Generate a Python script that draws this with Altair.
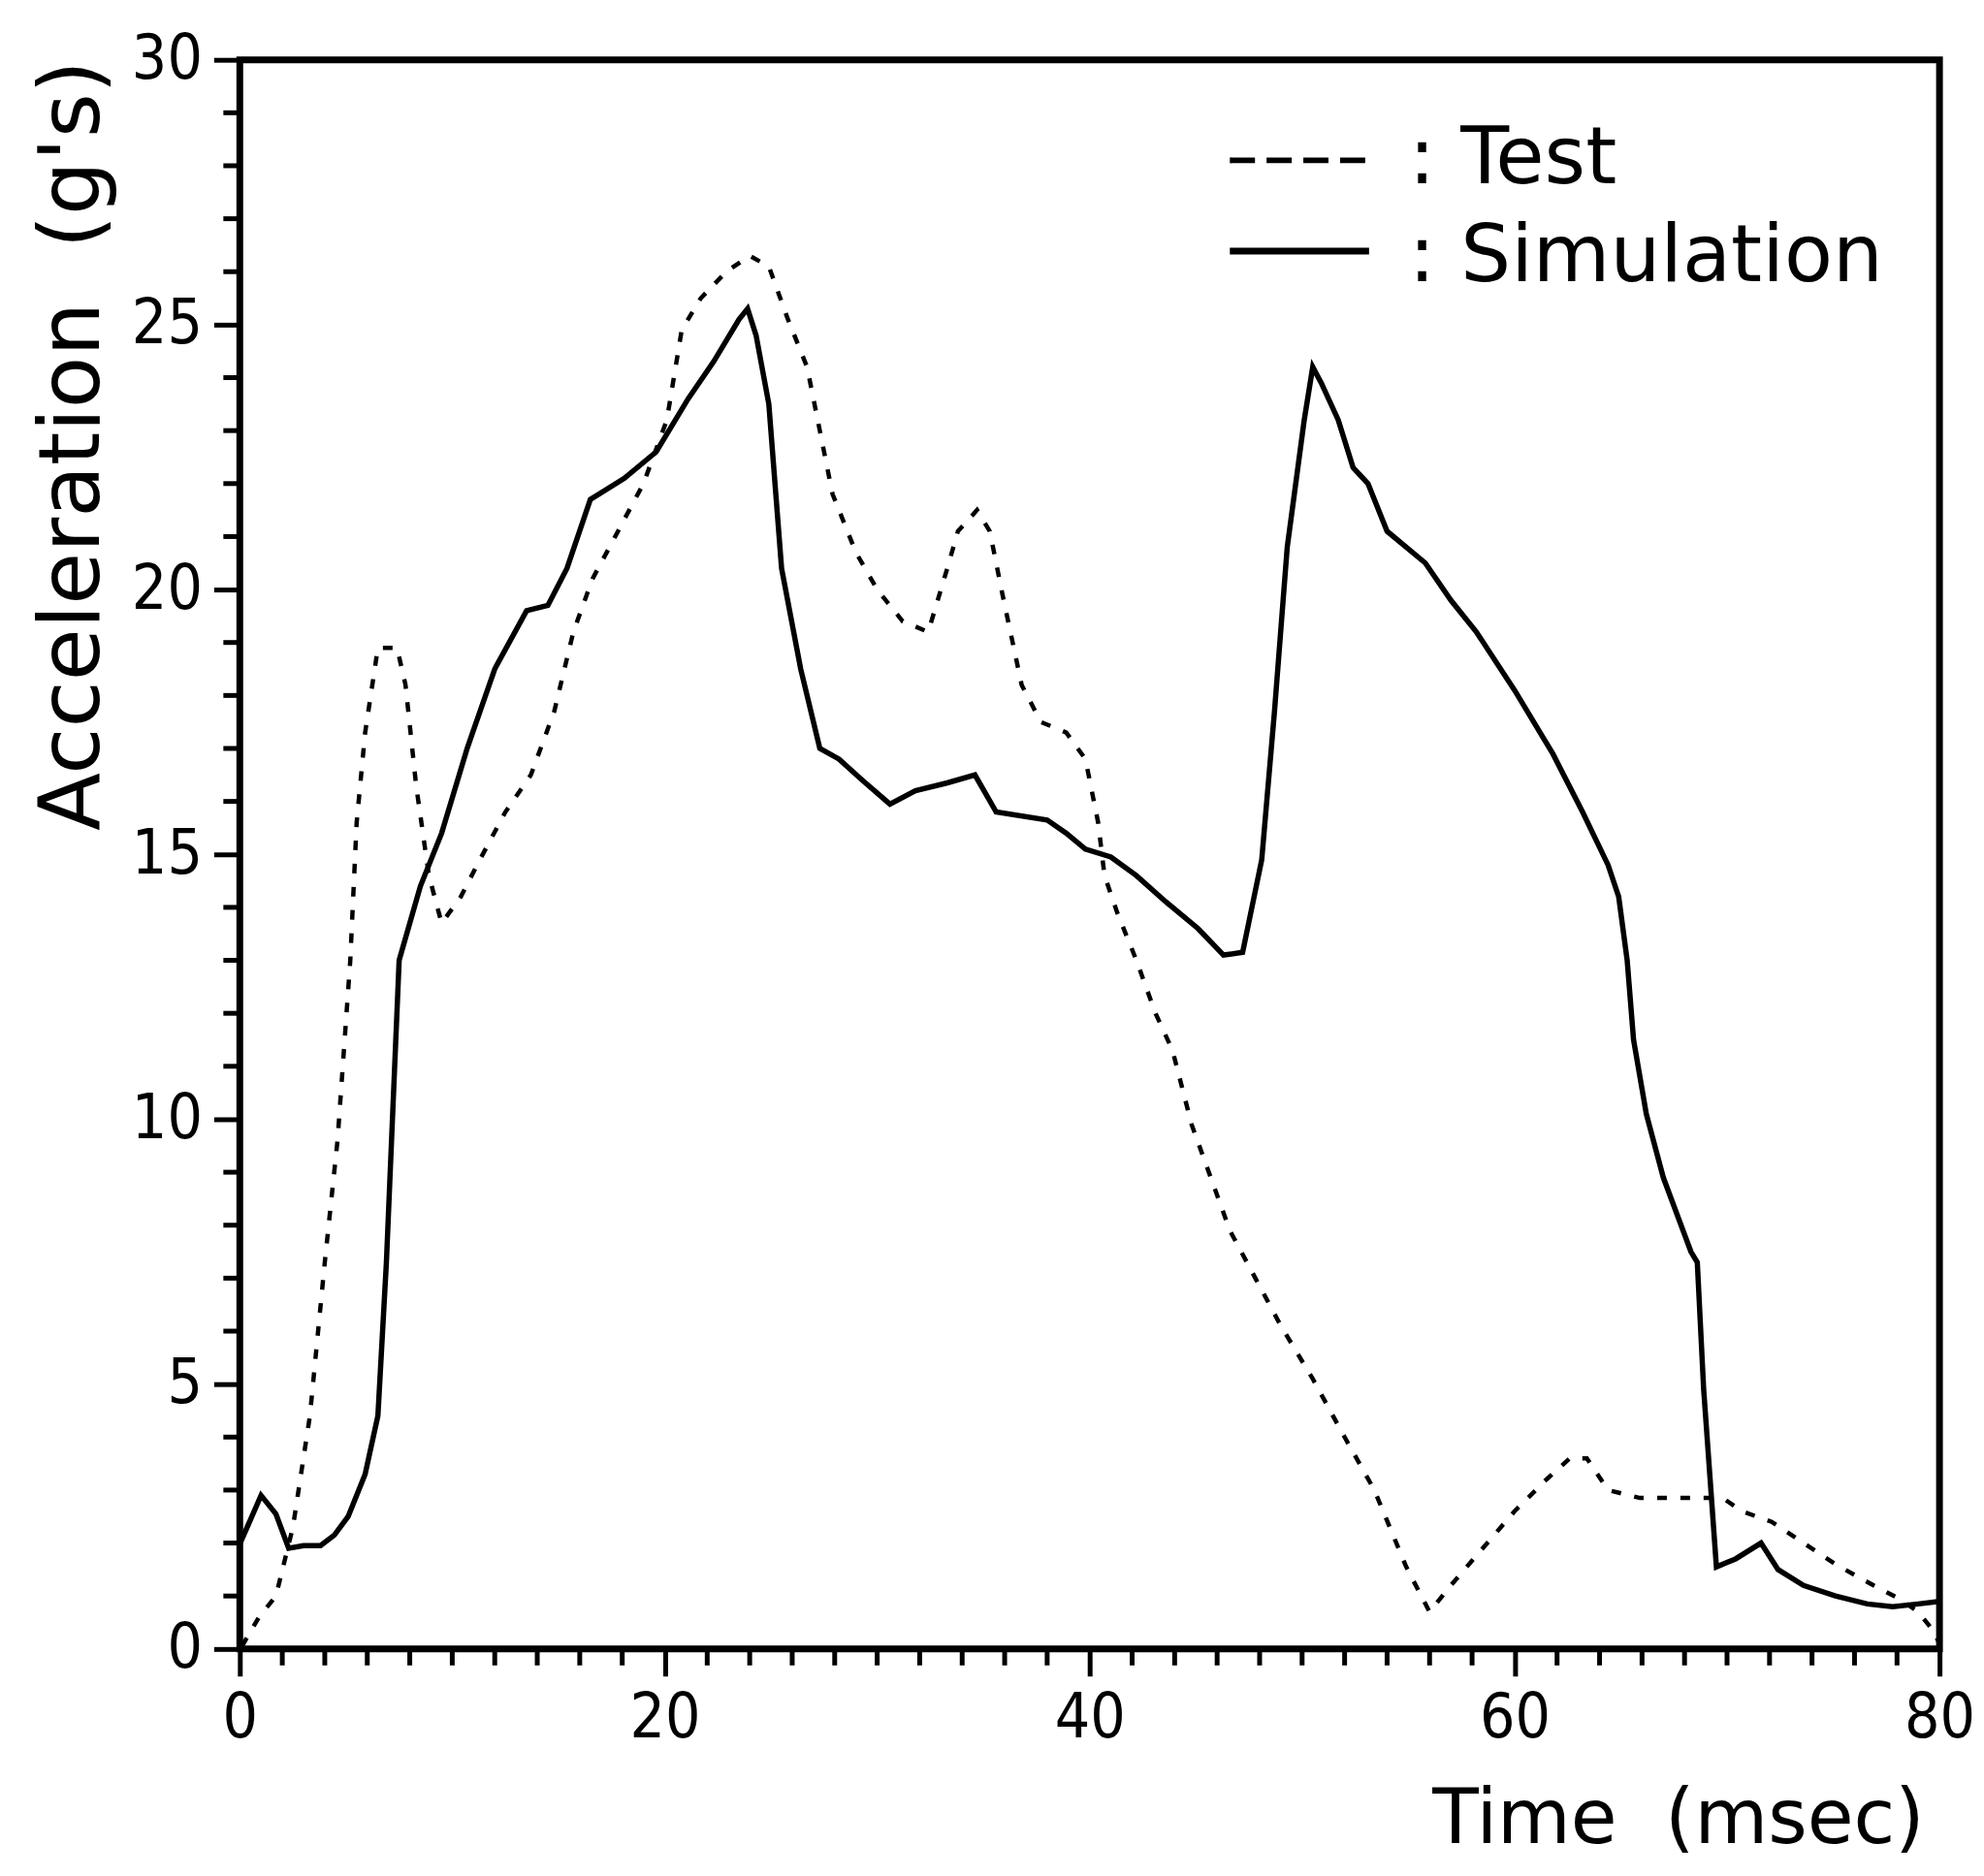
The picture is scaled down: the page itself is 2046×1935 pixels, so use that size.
import altair as alt
import pandas as pd

# ---- data ----
sim_t = [0, 1.0, 1.7, 2.3, 3.0, 3.8, 4.45, 5.1, 5.9, 6.5, 6.9, 7.5, 8.5, 9.5, 10.7, 12.0,
         13.5, 14.5, 15.4, 16.5, 18.1, 19.6, 21.1, 22.3, 23.5, 23.9, 24.3, 24.9, 25.5, 26.4,
         27.3, 28.2, 29.3, 30.6, 31.8, 33.3, 34.6, 35.6, 38.0, 38.9, 39.8, 41.0, 42.2, 43.6,
         45.1, 46.3, 47.2, 48.1, 48.7, 49.3, 50.1, 50.5, 50.9, 51.7, 52.4, 53.1, 54.0, 55.8,
         57.0, 58.2, 60.0, 61.8, 63.2, 64.4, 64.9, 65.3, 65.6, 66.2, 67.0, 68.3, 68.6, 68.9,
         69.5, 70.4, 71.6, 72.4, 73.6, 75.1, 76.6, 77.8, 79.0, 80.0]
sim_a = [1.98, 2.9, 2.55, 1.9, 1.95, 1.95, 2.15, 2.5, 3.3, 4.4, 7.3, 13.0, 14.4, 15.4, 17.0, 18.5,
         19.6, 19.7, 20.4, 21.7, 22.1, 22.6, 23.6, 24.3, 25.1, 25.3, 24.8, 23.5, 20.4, 18.5,
         17.0, 16.8, 16.4, 15.95, 16.2, 16.35, 16.5, 15.8, 15.65, 15.4, 15.1, 14.95, 14.6, 14.1,
         13.6, 13.1, 13.15, 14.9, 17.7, 20.8, 23.2, 24.2, 23.9, 23.2, 22.3, 22.0, 21.1, 20.5,
         19.8, 19.2, 18.1, 16.9, 15.8, 14.8, 14.2, 13.0, 11.5, 10.1, 8.9, 7.5, 7.3, 4.9,
         1.55, 1.7, 2.0, 1.5, 1.2, 1.0, 0.85, 0.8, 0.85, 0.9]

test_t = [0.1, 0.9, 1.7, 2.5, 3.3, 4.0, 4.6, 5.2, 5.5, 5.9, 6.5, 7.4, 7.8, 8.3, 8.9, 9.5,
          10.4, 11.3, 12.5, 13.7, 14.8, 15.7, 16.6, 17.8, 19.0, 20.1, 20.8, 21.7, 22.9, 24.0,
          24.9, 25.8, 26.7, 27.3, 27.9, 29.0, 30.0, 31.2, 32.4, 33.3, 33.8, 34.7, 35.3, 35.9,
          36.8, 37.7, 38.9, 39.8, 40.4, 40.7, 41.3, 42.2, 43.1, 43.9, 44.8, 45.7, 46.6, 47.8,
          49.0, 50.5, 52.0, 53.4, 54.9, 56.0, 57.0, 58.5, 60.0, 61.5, 62.6, 63.4, 64.4, 65.9,
          68.3, 69.8, 70.7, 72.1, 73.6, 75.1, 76.9, 78.1, 79.0, 79.7, 80.0]
test_a = [0.05, 0.6, 1.0, 2.3, 4.4, 7.3, 9.6, 13.0, 15.6, 17.3, 18.9, 18.9, 18.2, 16.3, 14.6, 13.7,
          14.2, 14.9, 15.8, 16.5, 17.7, 19.2, 20.2, 21.1, 22.0, 23.2, 24.9, 25.5, 26.0, 26.3,
          26.1, 25.1, 24.2, 23.0, 21.8, 20.7, 20.0, 19.4, 19.2, 20.4, 21.1, 21.5, 21.1, 19.9,
          18.2, 17.5, 17.3, 16.8, 15.6, 14.6, 13.9, 13.0, 12.0, 11.3, 9.9, 8.9, 7.9, 7.0,
          6.1, 5.1, 4.0, 3.0, 1.55, 0.7, 1.2, 1.9, 2.6, 3.2, 3.6, 3.6, 3.0, 2.85,
          2.85, 2.85, 2.6, 2.4, 2.0, 1.6, 1.2, 0.95, 0.7, 0.35, 0.1]

x_major = [0, 20, 40, 60, 80]
x_minor = [2, 4, 6, 8, 10, 12, 14, 16, 18, 22, 24, 26, 28, 30, 32, 34, 36, 38,
           42, 44, 46, 48, 50, 52, 54, 56, 58, 62, 64, 66, 68, 70, 72, 74, 76, 78]
y_major = [0, 5, 10, 15, 20, 25, 30]
y_minor = [1, 2, 3, 4, 6, 7, 8, 9, 11, 12, 13, 14, 16, 17, 18, 19, 21, 22, 23, 24,
           26, 27, 28, 29]

legend_labels = [": Test", ": Simulation"]
x_title = "Time\u00a0\u00a0(msec)"
y_title = "Acceleration\u00a0\u00a0(g's)"

W, H = 1758, 1644
TICK_FONT = "Liberation Sans Narrow, DejaVu Sans Condensed, DejaVu Sans"
TEXT_FONT = "DejaVu Sans"

sim_df = pd.DataFrame({"t": sim_t, "a": sim_a})
test_df = pd.DataFrame({"t": test_t, "a": test_a})

xscale = alt.Scale(domain=[0, 80], nice=False, zero=False)
yscale = alt.Scale(domain=[0, 30], nice=False)

xaxis = alt.Axis(values=x_major, format="d", tickSize=28, tickWidth=5, tickColor="black",
                 domain=False, grid=False, labelFont=TICK_FONT, labelFontSize=64,
                 labelColor="black", labelPadding=12, labelFlush=False,
                 title=x_title, titleFont=TEXT_FONT, titleFontSize=78,
                 titleFontWeight="normal", titleColor="black", titleAlign="right",
                 titleBaseline="alphabetic", titleX=1742, titleY=200, titleAngle=0)
yaxis = alt.Axis(values=y_major, format="d", tickSize=27, tickWidth=5, tickColor="black",
                 domain=False, grid=False, labelFont=TICK_FONT, labelFontSize=64,
                 labelColor="black", labelPadding=12, labelFlush=False,
                 title=y_title, titleFont=TEXT_FONT, titleFontSize=88,
                 titleFontWeight="normal", titleColor="black", titleAngle=270,
                 titleAlign="right", titleBaseline="middle", titleX=-172, titleY=0)

test_line = alt.Chart(test_df).mark_line(color="black", strokeWidth=4.5,
                                         strokeDash=[10, 14]).encode(
    x=alt.X("t:Q", scale=xscale, axis=xaxis),
    y=alt.Y("a:Q", scale=yscale, axis=yaxis),
)
sim_line = alt.Chart(sim_df).mark_line(color="black", strokeWidth=5.5).encode(
    x=alt.X("t:Q", scale=xscale),
    y=alt.Y("a:Q", scale=yscale),
)

ymin_ticks = alt.Chart(pd.DataFrame({"v": y_minor})).mark_rule(
    color="black", strokeWidth=5).encode(
    y=alt.Y("v:Q", scale=yscale), x=alt.value(-17), x2=alt.value(0))
xmin_ticks = alt.Chart(pd.DataFrame({"v": x_minor})).mark_rule(
    color="black", strokeWidth=5).encode(
    x=alt.X("v:Q", scale=xscale), y=alt.value(H), y2=alt.value(H + 17))

leg_test_sym = alt.Chart(pd.DataFrame({"k": [0]})).mark_rule(
    color="black", strokeWidth=6, strokeDash=[26, 12]).encode(
    x=alt.value(1024), x2=alt.value(1168), y=alt.value(104))
leg_sim_sym = alt.Chart(pd.DataFrame({"k": [0]})).mark_rule(
    color="black", strokeWidth=7).encode(
    x=alt.value(1024), x2=alt.value(1168), y=alt.value(198))
leg_test_txt = alt.Chart(pd.DataFrame({"label": [legend_labels[0]]})).mark_text(
    align="left", baseline="alphabetic", font=TEXT_FONT, fontSize=82, color="black").encode(
    text="label:N", x=alt.value(1209), y=alt.value(128))
leg_sim_txt = alt.Chart(pd.DataFrame({"label": [legend_labels[1]]})).mark_text(
    align="left", baseline="alphabetic", font=TEXT_FONT, fontSize=82, color="black").encode(
    text="label:N", x=alt.value(1209), y=alt.value(229))

chart = alt.layer(
    test_line, sim_line, ymin_ticks, xmin_ticks,
    leg_test_sym, leg_sim_sym, leg_test_txt, leg_sim_txt
).properties(
    width=W, height=H,
    autosize=alt.AutoSizeParams(type="none"),
    padding={"left": 240, "top": 51, "right": 38, "bottom": 226},
).configure(
    background="white",
    view=alt.ViewConfig(stroke="black", strokeWidth=7),
)

chart.save("out.html", embed_options={"renderer": "svg", "actions": False})
